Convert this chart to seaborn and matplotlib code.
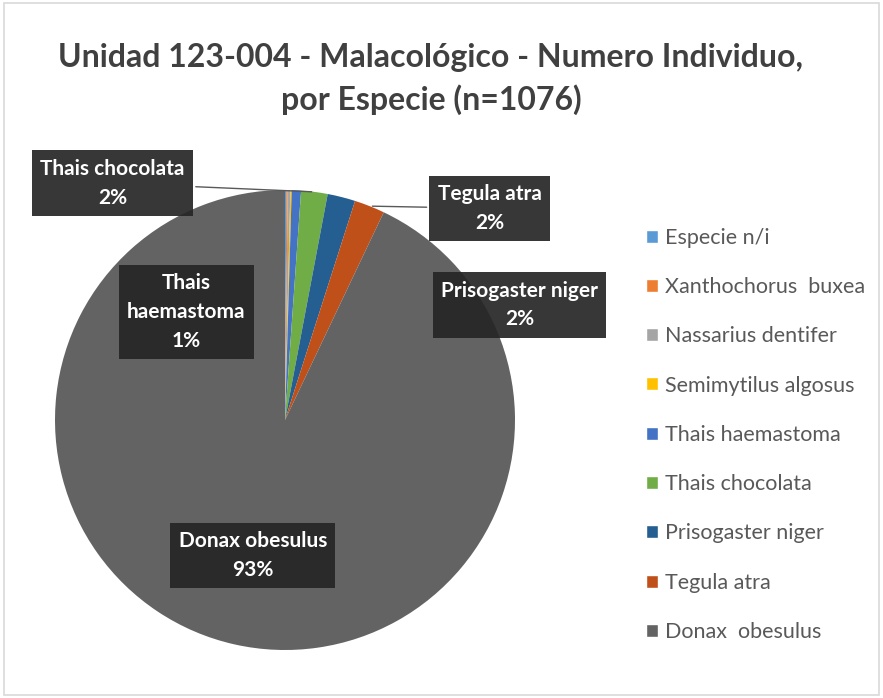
import numpy as np
import matplotlib
matplotlib.use("Agg")
import matplotlib.pyplot as plt
import seaborn as sns

# Data (n=1076)
species = ["Especie n/i", "Xanthochorus  buxea", "Nassarius dentifer",
           "Semimytilus algosus", "Thais haemastoma", "Thais chocolata",
           "Prisogaster niger", "Tegula atra", "Donax  obesulus"]
counts = [1, 1, 2, 1, 7, 20, 21, 23, 1000]
colors = ["#5B9BD5", "#ED7D31", "#A5A5A5", "#FFC000", "#4472C4",
          "#70AD47", "#255E91", "#C0501A", "#636363"]

# labelled slices: species -> label position (axes data units)
label_names = ["Thais chocolata", "Tegula atra", "Prisogaster niger",
               "Thais haemastoma", "Donax  obesulus"]
label_texts = ["Thais chocolata\n2%", "Tegula atra\n2%", "Prisogaster niger\n2%",
               "Thais\nhaemastoma\n1%", "Donax obesulus\n93%"]
label_pos = [(-0.75, 1.03), (0.89, 0.92), (1.02, 0.50), (-0.43, 0.47), (-0.14, -0.59)]
leader = [True, True, False, False, False]

sns.set_theme(style="white")
plt.rcParams["font.family"] = ["Lato", "DejaVu Sans"]

fig = plt.figure(figsize=(8.83, 6.98), dpi=100)
fig.patch.set_facecolor("white")

# pie axes: centre ~ (285, 420) px, radius ~230 px
W, H = 883, 698
cx, cy, r = 285, 420, 230
ax = fig.add_axes([(cx - r) / W, (H - cy - r) / H, 2 * r / W, 2 * r / H])

wedges, _ = ax.pie(counts, colors=colors, startangle=90, counterclock=False,
                   wedgeprops=dict(linewidth=0))
ax.set_xlim(-1, 1)
ax.set_ylim(-1, 1)
ax.set_aspect("equal")
ax.axis("off")

box = dict(boxstyle="square,pad=0.4", facecolor="#262626", edgecolor="none", alpha=0.92)
for name, txt, pos, lead in zip(label_names, label_texts, label_pos, leader):
    w = wedges[species.index(name)]
    mid = np.deg2rad((w.theta1 + w.theta2) / 2)
    edge = (np.cos(mid), np.sin(mid))
    ax.annotate(txt, xy=edge if lead else pos, xytext=pos, ha="center", va="center",
                fontsize=15, fontweight="bold", color="white", linespacing=1.55,
                bbox=box, annotation_clip=False,
                arrowprops=dict(arrowstyle="-", color="#595959", lw=1) if lead else None)

fig.text(0.488, 0.887, "Unidad 123-004 - Malacológico - Numero Individuo,\npor Especie (n=1076)",
         ha="center", va="center", fontsize=23, fontweight="bold", color="#404040",
         linespacing=1.45)

handles = [plt.Rectangle((0, 0), 1, 1, facecolor=c) for c in colors]
fig.legend(handles, species, loc="center left", bbox_to_anchor=(0.732, 0.377),
           frameon=False, fontsize=15.5, labelcolor="#595959", borderpad=0,
           borderaxespad=0, handlelength=0.55, handleheight=0.55,
           handletextpad=0.3, labelspacing=1.36)

fig.add_artist(plt.Rectangle((0.005, 0.005), 0.99, 0.99, transform=fig.transFigure,
                             fill=False, edgecolor="#d9d9d9", lw=1.2))

fig.savefig("out.png", dpi=100)
